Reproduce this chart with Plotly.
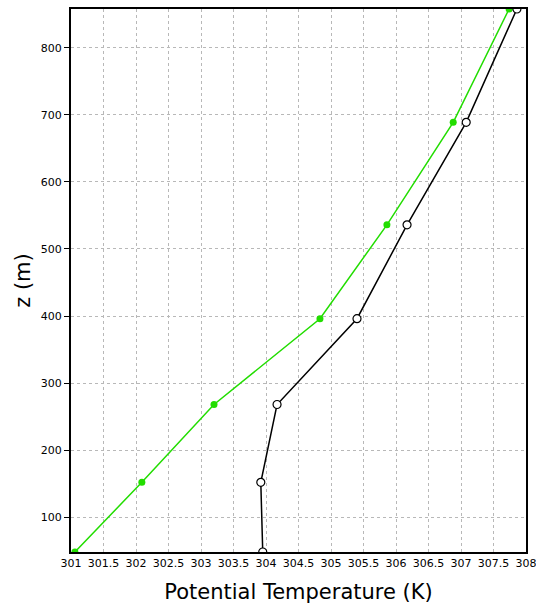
import plotly.graph_objects as go

z_levels = [48, 152, 268, 396, 536, 689, 858]
theta_green = [301.06, 302.09, 303.2, 304.83, 305.86, 306.88, 307.74]
theta_black = [303.95, 303.92, 304.17, 305.4, 306.17, 307.08, 307.86]

x_ticks = [301 + 0.5 * i for i in range(15)]
x_ticklabels = [("%g" % v) for v in x_ticks]
y_ticks = [100, 200, 300, 400, 500, 600, 700, 800]

fig = go.Figure()
fig.add_trace(go.Scatter(
    x=theta_green, y=z_levels, mode="lines+markers",
    line=dict(color="#22dd00", width=1.5),
    marker=dict(color="#22dd00", size=7, symbol="circle"),
    showlegend=False))
fig.add_trace(go.Scatter(
    x=theta_black, y=z_levels, mode="lines+markers",
    line=dict(color="black", width=1.5),
    marker=dict(color="white", size=8, symbol="circle", line=dict(color="black", width=1.2)),
    showlegend=False))

font_fam = "DejaVu Sans, Liberation Sans, sans-serif"
fig.update_layout(
    width=536, height=606,
    margin=dict(l=71, r=10, t=9, b=54),
    paper_bgcolor="white", plot_bgcolor="white",
    font=dict(family=font_fam, color="black"),
    xaxis=dict(
        range=[301, 308], tickvals=x_ticks, ticktext=x_ticklabels,
        showgrid=True, gridcolor="#b8b8b8", griddash="dot", gridwidth=1,
        showline=True, linecolor="black", linewidth=2, mirror=True,
        ticks="", tickfont=dict(size=11), zeroline=False, automargin=False,
        ticklabeloverflow="allow",
        title=dict(text="Potential Temperature (K)", font=dict(size=21), standoff=15),
    ),
    yaxis=dict(
        range=[48, 858], tickvals=y_ticks,
        showgrid=True, gridcolor="#b8b8b8", griddash="dot", gridwidth=1,
        showline=True, linecolor="black", linewidth=2, mirror=True,
        ticks="outside", ticklen=5, tickcolor="black", tickfont=dict(size=11), zeroline=False,
        automargin=False,
        title=dict(text="z (m)", font=dict(size=21), standoff=4),
    ),
)

fig.write_html(
    "out.html",
    config={"displayModeBar": False},
    post_script="document.body.style.margin='0';document.body.style.overflow='hidden';",
)
